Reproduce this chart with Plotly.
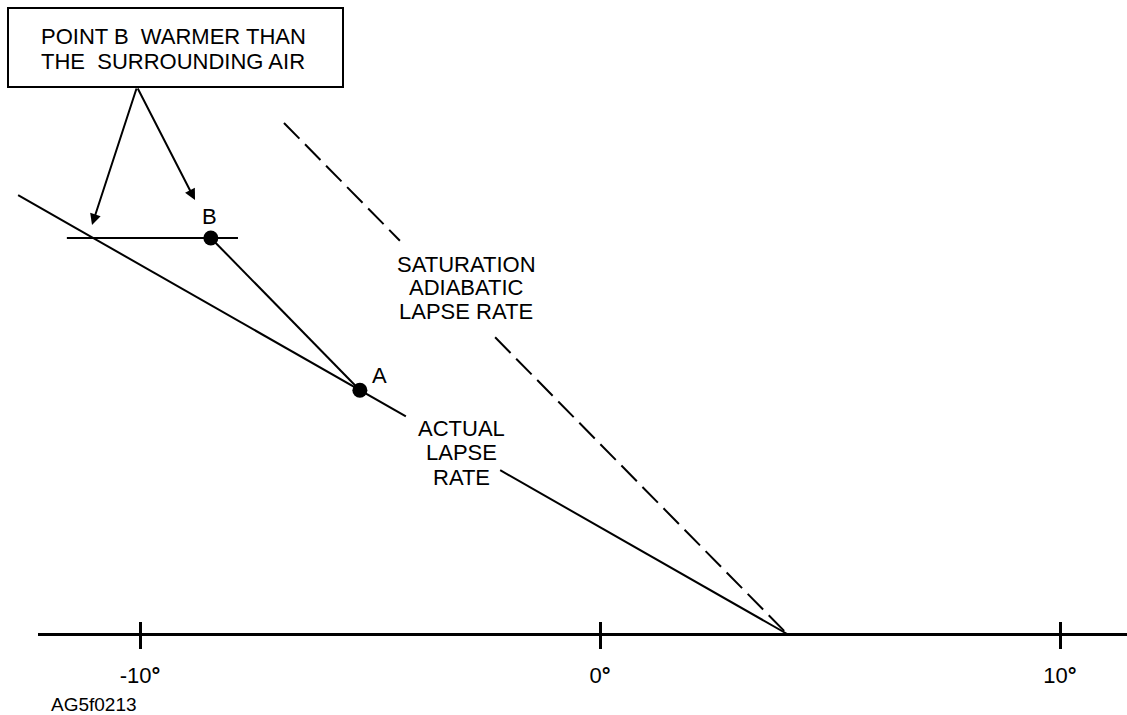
import plotly.graph_objects as go

# ---------------- data (temperature in degrees, height in arbitrary units) ----------------
actual_x = [-12.65, -4.22, None, -2.17, 4.07]
actual_y = [9.54, 4.73, None, 3.56, 0.0]

satur_x = [-6.87, -4.35, None, -2.28, 4.07]
satur_y = [11.11, 8.55, None, 6.45, 0.0]

level_x = [-11.59, -7.87]          # horizontal level through point B
level_y = [8.61, 8.61]

parcel_x = [-8.46, -5.22]          # B -> A
parcel_y = [8.61, 5.30]
parcel_labels = ["B", "A"]

tick_vals = [-10, 0, 10]
tick_text = ["-10<b>°</b>", "0<b>°</b>", "10<b>°</b>"]

box_lines = ["POINT B  WARMER THAN", "THE  SURROUNDING AIR"]
satur_lines = ["SATURATION", "ADIABATIC", "LAPSE RATE"]
actual_lines = ["ACTUAL", "LAPSE", "RATE"]

# ---------------- layout geometry ----------------
W, H = 1127, 715
S = 46.0          # px per unit
X0 = 600.0        # px of x=0
Y0 = 634.0        # px of y=0 (axis)
AX_LEFT = 38.0

def dx(px):
    return (px - X0) / S

def dy(py):
    return (Y0 - py) / S

FONT = "Arial, Liberation Sans, Helvetica, sans-serif"
BLACK = "#000000"

fig = go.Figure()

fig.add_trace(go.Scatter(x=actual_x, y=actual_y, mode="lines",
                         line=dict(color=BLACK, width=2), hoverinfo="skip"))
fig.add_trace(go.Scatter(x=satur_x, y=satur_y, mode="lines",
                         line=dict(color=BLACK, width=2, dash="22px,8px"), hoverinfo="skip"))
fig.add_trace(go.Scatter(x=level_x, y=level_y, mode="lines",
                         line=dict(color=BLACK, width=2), hoverinfo="skip"))
fig.add_trace(go.Scatter(x=parcel_x, y=parcel_y, mode="lines+markers",
                         line=dict(color=BLACK, width=2),
                         marker=dict(color=BLACK, size=15), hoverinfo="skip"))

# invisible traces so that the temperature axes are drawn
for ax in ("x2", "x3"):
    fig.add_trace(go.Scatter(x=tick_vals, y=[0] * len(tick_vals), xaxis=ax, yaxis="y",
                             mode="markers", marker=dict(opacity=0), hoverinfo="skip"))

annotations = []
# point labels
annotations.append(dict(x=parcel_x[0] - 0.02, y=parcel_y[0] + 0.46, text=parcel_labels[0]))
annotations.append(dict(x=parcel_x[1] + 0.42, y=parcel_y[1] + 0.33, text=parcel_labels[1]))

# saturation label
for i, t in enumerate(satur_lines):
    annotations.append(dict(x=dx(466), y=dy(264 + i * 23.5), text=t))
# actual label
for i, t in enumerate(actual_lines):
    annotations.append(dict(x=dx(461), y=dy(428 + i * 24.5), text=t))
# box text
for i, t in enumerate(box_lines):
    annotations.append(dict(x=dx(173), y=dy(36.5 + i * 25), text=t))

for a in annotations:
    a.update(xref="x", yref="y", showarrow=False, xanchor="center", yanchor="middle",
             font=dict(family=FONT, size=22, color=BLACK))

# arrows from the box
tail = (dx(137), dy(87))
for tip in [(dx(92), dy(225)), (dx(195), dy(200))]:
    annotations.append(dict(x=tip[0], y=tip[1], ax=tail[0], ay=tail[1],
                            xref="x", yref="y", axref="x", ayref="y",
                            text="", showarrow=True, arrowhead=2, arrowsize=1.1,
                            arrowwidth=2, arrowcolor=BLACK, standoff=0, startstandoff=0))

# figure id
annotations.append(dict(x=dx(94), y=dy(704.5), xref="x", yref="y", text="AG5f0213",
                        showarrow=False, xanchor="center", yanchor="middle",
                        font=dict(family=FONT, size=19, color=BLACK)))

shapes = [dict(type="rect", xref="x", yref="y",
               x0=dx(8), x1=dx(343), y0=dy(87), y1=dy(8),
               line=dict(color=BLACK, width=2), fillcolor="white", layer="below")]

fig.update_layout(
    width=W, height=H,
    margin=dict(l=0, r=0, t=0, b=0),
    paper_bgcolor="white", plot_bgcolor="rgba(0,0,0,0)",
    showlegend=False,
    annotations=annotations,
    shapes=shapes,
    xaxis=dict(domain=[0, 1], range=[dx(0), dx(W)], visible=False, fixedrange=True),
    yaxis=dict(domain=[0, 1], range=[dy(H), dy(0)], visible=False, fixedrange=True),
    xaxis2=dict(domain=[AX_LEFT / W, 1], range=[dx(AX_LEFT), dx(W)], anchor="free",
                position=(H - Y0) / H, showline=True, linecolor=BLACK, linewidth=3,
                showgrid=False, zeroline=False, ticks="",
                tickmode="array", tickvals=tick_vals, ticktext=tick_text,
                tickfont=dict(family=FONT, size=22, color=BLACK),
                ticklabelstandoff=21, fixedrange=True),
    xaxis3=dict(domain=[AX_LEFT / W, 1], range=[dx(AX_LEFT), dx(W)], anchor="free",
                position=(H - 621) / H, showline=False, showgrid=False, zeroline=False,
                ticks="outside", ticklen=27, tickwidth=2.5, tickcolor=BLACK,
                tickmode="array", tickvals=tick_vals, showticklabels=False,
                fixedrange=True),
)

fig.write_html("out.html", config={"displayModeBar": False},
               post_script="document.body.style.margin='0';document.body.style.overflow='hidden';")
